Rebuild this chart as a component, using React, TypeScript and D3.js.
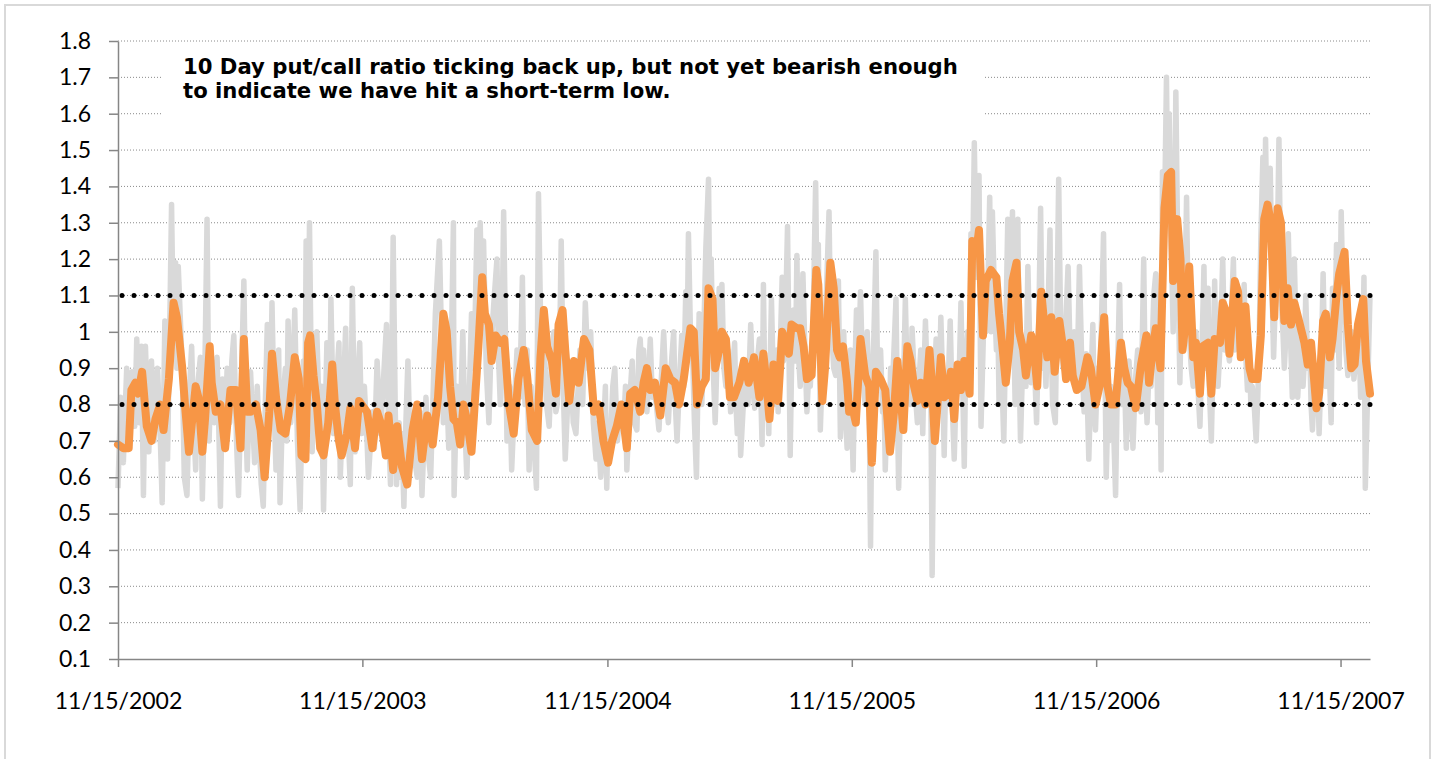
import React, { useEffect, useRef } from "react";
import * as d3 from "d3";

// first date of the series, x ticks fall on every 11/15
const startDate = "11/15/2002";
const xTickLabels = ["11/15/2002", "11/15/2003", "11/15/2004", "11/15/2005", "11/15/2006", "11/15/2007"];
const yTicks = [0.1, 0.2, 0.3, 0.4, 0.5, 0.6, 0.7, 0.8, 0.9, 1.0, 1.1, 1.2, 1.3, 1.4, 1.5, 1.6, 1.7, 1.8];
const thresholds = [1.1, 0.8];
const note = [
  "10 Day put/call ratio ticking back up, but not yet bearish enough",
  "to indicate we have hit a short-term low.",
];

// [days after 11/15/2002, daily put/call ratio]
const dailyRatio: [number, number][] = [
  [0,0.57],[4,0.82],[8,0.64],[13,0.9],[17,0.7],[21,0.89],[25,0.74],[28,0.98],[32,0.75],[35,0.96],[38,0.55],[41,0.96],[46,0.67],[50,0.92],[54,0.7],[59,0.9],[63,0.72],[66,0.53],[70,1.03],[74,0.65],[78,1.1],[80,1.35],[83,0.95],[86,1.19],[88,0.9],[90,1.18],[96,0.9],[99,0.6],[103,0.55],[107,0.85],[110,0.96],[113,0.75],[116,0.62],[119,0.85],[123,0.93],[126,0.54],[129,0.8],[133,1.31],[136,0.7],[140,0.92],[144,0.75],[148,0.93],[151,0.7],[153,0.52],[156,0.87],[160,0.72],[163,0.9],[167,0.75],[170,0.92],[173,0.99],[177,0.7],[180,0.55],[184,0.85],[188,1.14],[191,0.75],[193,0.62],[196,0.8],[198,0.89],[202,0.72],[204,0.64],[208,0.85],[212,0.65],[214,0.58],[217,0.52],[220,0.8],[223,1.02],[227,0.75],[230,1.08],[233,0.8],[236,0.62],[238,0.8],[240,0.95],
  [242,0.53],[246,0.8],[250,0.9],[252,0.7],[254,1.03],[258,0.75],[261,0.88],[264,1.06],[268,0.7],[272,0.51],[275,0.8],[277,0.92],[279,0.7],[281,1.25],[284,0.85],[286,1.3],[290,0.67],[293,0.85],[297,1.0],[300,0.8],[302,0.68],[304,0.85],[307,0.51],[310,0.8],[312,0.97],[316,0.75],[318,1.09],[322,0.72],[326,0.85],[330,0.97],[332,0.6],[336,0.8],[340,1.01],[343,0.75],[347,0.58],[350,1.12],[354,0.67],[358,0.85],[361,0.97],[364,0.72],[368,0.85],[372,0.7],[374,0.6],[380,0.78],[383,0.68],[387,0.92],[392,0.72],[396,0.85],[401,1.02],[404,0.75],[407,0.58],[411,1.26],[414,0.8],[416,0.58],[420,0.75],[422,0.6],[424,0.72],[427,0.52],[430,0.75],[433,0.92],[436,0.7],[440,0.77],[443,0.65],[447,0.6],[451,0.78],[454,0.55],[457,0.7],[460,0.82],[462,0.7],[464,0.65],[467,0.6],[471,0.85],[474,1.05],[480,1.25],
  [486,0.75],[490,0.9],[494,0.68],[497,0.85],[501,1.3],[502,0.55],[506,0.85],[508,0.7],[512,0.8],[515,1.0],[518,0.75],[521,0.6],[525,0.85],[528,1.05],[532,0.9],[536,1.28],[538,1.05],[541,1.3],[544,1.0],[546,1.25],[550,0.9],[554,0.75],[557,0.95],[561,1.07],[566,1.2],[568,0.95],[571,0.8],[574,1.05],[576,1.33],[579,0.95],[581,0.7],[585,0.85],[588,0.62],[592,0.8],[596,0.95],[600,0.82],[604,1.15],[606,0.9],[608,0.8],[611,0.95],[614,0.62],[617,0.85],[621,0.7],[625,0.57],[628,1.38],[632,0.95],[636,1.0],[640,0.8],[644,0.74],[647,0.9],[651,1.0],[654,0.78],[656,0.8],[660,1.0],[662,1.25],[665,0.85],[668,0.65],[672,0.82],[676,0.9],[680,0.75],[684,0.72],[686,0.8],[690,0.95],[694,0.8],[698,1.08],[702,0.9],[706,1.0],[710,0.75],[714,0.65],[717,0.75],[721,0.6],
  [725,0.72],[728,0.85],[730,0.57],[732,0.75],[735,0.68],[739,0.85],[742,0.9],[746,0.7],[750,0.8],[755,0.73],[758,0.85],[760,0.62],[764,0.8],[768,0.92],[771,0.75],[775,0.73],[778,0.95],[780,0.98],[783,0.85],[785,0.95],[788,0.8],[790,0.78],[795,0.98],[798,0.82],[800,0.85],[804,0.8],[808,0.73],[811,0.85],[815,1.0],[819,0.82],[822,0.75],[826,0.9],[830,1.0],[832,0.82],[835,0.7],[839,0.88],[842,0.99],[845,0.85],[848,1.11],[850,0.95],[852,1.27],[855,1.0],[858,0.95],[861,0.75],[864,0.6],[868,1.05],[870,0.85],[872,0.8],[875,1.0],[878,1.23],[882,1.42],[884,1.05],[886,1.2],[889,0.9],[892,0.75],[895,0.95],[898,1.12],[900,0.95],[902,1.13],[905,0.9],[908,0.85],[911,0.95],[915,0.78],[918,0.9],[921,0.97],[923,0.8],[925,0.72],[928,0.85],[930,0.66],[934,0.8],[938,0.9],[941,0.8],[945,1.02],[948,0.85],[951,0.79],[954,0.9],[958,0.98],
  [962,0.69],[964,1.13],[966,0.85],[969,0.9],[972,0.72],[974,0.9],[976,1.09],[979,0.85],[982,0.8],[984,0.95],[986,0.78],[989,0.95],[992,1.15],[994,0.92],[996,0.95],[1000,1.29],[1004,0.66],[1006,0.9],[1009,1.06],[1012,0.92],[1014,1.21],[1016,0.95],[1019,0.85],[1023,1.16],[1026,0.95],[1029,0.78],[1032,0.9],[1034,0.85],[1038,1.0],[1042,1.41],[1044,1.1],[1046,1.24],[1049,0.73],[1052,0.9],[1054,0.95],[1058,1.1],[1062,1.33],[1064,1.05],[1066,1.0],[1069,0.9],[1072,0.88],[1076,1.14],[1079,0.71],[1082,0.85],[1084,1.0],[1086,0.8],[1089,0.68],[1092,0.85],[1094,0.95],[1096,0.75],[1098,0.62],[1100,0.85],[1103,1.06],[1106,0.9],[1109,1.11],[1112,0.9],[1114,0.85],[1116,0.8],[1119,1.0],[1122,0.8],[1124,0.41],[1126,0.8],[1129,0.99],[1132,1.22],[1134,0.95],[1136,0.9],[1139,0.95],[1142,0.78],[1144,0.85],[1146,0.62],[1149,0.8],[1152,0.75],[1154,0.9],[1156,0.82],[1159,0.95],[1162,1.09],[1164,0.8],[1166,0.57],[1169,0.85],[1172,0.75],[1176,1.09],[1179,0.85],[1182,0.9],[1184,0.8],[1186,1.01],[1190,0.85],[1194,0.75],[1196,0.85],[1199,0.95],
  [1202,0.72],[1204,0.9],[1206,1.03],[1209,0.85],[1212,0.8],[1214,0.85],[1216,0.33],[1219,0.85],[1222,0.98],[1224,0.85],[1226,0.78],[1229,1.04],[1232,0.85],[1234,0.66],[1236,0.85],[1239,0.8],[1243,1.03],[1246,0.8],[1249,0.65],[1252,0.85],[1254,0.9],[1256,0.85],[1259,1.08],[1262,0.82],[1264,0.63],[1266,0.9],[1269,1.0],[1272,0.85],[1274,1.27],[1276,1.1],[1279,1.52],[1282,1.15],[1284,1.2],[1286,1.43],[1289,0.74],[1292,0.95],[1294,1.1],[1296,1.0],[1299,1.1],[1302,1.37],[1304,1.0],[1306,1.33],[1309,1.1],[1312,0.95],[1314,1.05],[1316,0.8],[1319,0.95],[1323,0.7],[1326,1.0],[1329,1.31],[1332,1.0],[1336,1.33],[1338,1.0],[1340,0.8],[1344,1.31],[1346,0.9],[1348,0.7],[1351,0.9],[1354,0.95],[1356,0.85],[1359,1.18],[1362,0.95],[1364,0.86],[1368,0.95],[1372,0.75],[1375,1.0],[1378,1.34],[1381,0.9],[1384,0.95],[1386,0.85],[1389,1.05],[1392,1.28],[1394,0.95],[1396,0.8],[1400,0.75],[1402,1.0],[1405,1.42],[1408,1.0],[1412,0.9],[1415,1.0],[1419,1.18],[1422,0.95],[1424,0.9],[1428,1.0],[1432,0.85],[1434,1.0],[1436,1.18],[1439,0.95],
  [1443,0.78],[1446,0.94],[1448,0.8],[1450,0.65],[1453,0.85],[1456,1.02],[1458,0.8],[1460,0.73],[1463,0.9],[1466,0.85],[1468,0.95],[1472,1.27],[1476,0.6],[1478,0.75],[1480,0.7],[1483,0.85],[1486,0.8],[1490,0.55],[1493,0.9],[1496,1.13],[1498,0.9],[1500,0.8],[1503,0.9],[1506,0.68],[1508,0.85],[1510,0.92],[1513,0.8],[1516,0.68],[1519,0.85],[1523,0.95],[1526,0.85],[1528,0.78],[1532,1.2],[1534,0.9],[1537,0.75],[1540,0.9],[1543,0.85],[1547,1.1],[1550,1.16],[1553,0.75],[1556,0.95],[1558,0.62],[1560,1.44],[1563,1.3],[1566,1.7],[1568,1.35],[1570,1.6],[1573,1.25],[1576,1.0],[1578,1.3],[1580,1.66],[1583,1.2],[1586,0.86],[1588,1.05],[1590,1.2],[1593,1.0],[1596,1.37],[1598,1.1],[1600,1.0],[1603,0.9],[1606,0.85],[1608,0.95],[1610,1.0],[1613,0.85],[1616,0.74],[1619,0.95],[1622,1.18],[1624,0.9],[1628,1.12],[1630,0.85],[1633,0.7],[1636,0.95],[1638,1.14],[1640,0.95],[1643,0.85],[1647,1.0],[1650,1.2],[1653,0.95],[1656,1.0],[1658,0.95],[1660,0.92],[1663,1.05],[1666,1.2],[1668,0.95],[1673,1.0],[1676,1.1],
  [1680,0.95],[1682,1.13],[1684,0.95],[1687,0.84],[1690,0.95],[1692,0.8],[1694,0.85],[1697,0.8],[1700,0.7],[1702,0.8],[1704,0.92],[1707,1.26],[1710,1.48],[1712,1.2],[1714,1.53],[1716,1.3],[1718,1.35],[1721,1.45],[1724,1.1],[1726,0.93],[1728,1.05],[1731,1.15],[1734,1.53],[1737,1.1],[1740,1.0],[1742,0.9],[1746,1.05],[1748,1.27],[1751,1.0],[1754,0.82],[1757,1.2],[1760,0.95],[1762,0.82],[1764,0.9],[1767,0.98],[1770,0.85],[1772,0.92],[1774,1.1],[1777,0.9],[1780,0.95],[1782,0.8],[1784,0.73],[1787,0.85],[1790,0.8],[1792,0.85],[1794,0.72],[1797,0.9],[1800,1.16],[1802,0.95],[1804,0.85],[1807,0.95],[1810,0.85],[1812,0.75],[1814,1.12],[1817,0.95],[1820,1.24],[1822,1.0],[1824,0.9],[1827,1.33],[1830,1.05],[1832,1.12],[1834,0.95],[1837,0.88],[1840,0.95],[1843,1.0],[1846,0.87],[1850,0.95],[1853,1.02],[1856,0.82],[1859,0.95],[1861,1.15],[1863,0.57],[1866,0.8],[1868,0.95],[1870,1.1],
];

// [days after 11/15/2002, 10 day average]
const tenDayRatio: [number, number][] = [
  [0,0.69],[8,0.68],[16,0.68],[20,0.84],[26,0.86],[30,0.83],[36,0.89],[43,0.74],[50,0.7],[56,0.76],[63,0.8],[68,0.73],[76,0.87],[83,1.08],[88,1.04],[96,0.9],[100,0.8],[106,0.67],[116,0.85],[120,0.82],[126,0.67],[130,0.76],[137,0.96],[140,0.86],[146,0.78],[153,0.8],[160,0.68],[168,0.84],[176,0.84],[183,0.68],[188,0.98],[193,0.78],[198,0.78],[206,0.8],[213,0.73],[219,0.6],[226,0.78],[230,0.94],[236,0.82],[243,0.73],
  [250,0.72],[257,0.8],[264,0.93],[270,0.87],[274,0.66],[280,0.65],[284,0.97],[287,0.99],[292,0.88],[297,0.8],[302,0.68],[307,0.66],[314,0.75],[320,0.91],[324,0.8],[330,0.7],[334,0.66],[342,0.72],[347,0.79],[354,0.68],[360,0.81],[364,0.8],[372,0.78],[380,0.68],[387,0.78],[394,0.74],[400,0.66],[404,0.77],[411,0.62],[417,0.74],[424,0.63],[432,0.58],[440,0.73],[447,0.8],[454,0.65],[462,0.77],[470,0.69],
  [478,0.82],[486,1.05],[491,1.0],[496,0.85],[501,0.76],[506,0.75],[511,0.69],[516,0.8],[521,0.76],[528,0.67],[531,0.75],[538,0.95],[544,1.15],[548,1.05],[554,1.02],[558,0.92],[564,0.99],[571,0.97],[577,0.98],[584,0.8],[591,0.72],[598,0.87],[606,0.95],[611,0.88],[618,0.73],[626,0.7],[631,0.93],[636,1.06],[641,0.96],[648,0.92],[654,0.83],[658,1.02],[664,1.06],[668,0.95],[674,0.81],[681,0.92],[688,0.86],[696,0.98],[704,0.95],[711,0.78],
  [718,0.8],[725,0.7],[732,0.64],[738,0.7],[745,0.74],[752,0.8],[760,0.68],[765,0.83],[772,0.84],[780,0.78],[785,0.86],[790,0.9],[795,0.84],[802,0.86],[810,0.77],[818,0.9],[825,0.87],[832,0.86],[838,0.8],[845,0.87],[850,0.94],[855,1.01],[860,1.0],[865,0.8],[872,0.85],[878,0.87],[882,1.12],[888,1.09],[892,0.9],[898,0.95],[902,1.0],[908,0.98],[914,0.82],[920,0.82],[928,0.86],[935,0.92],[942,0.86],[950,0.93],[958,0.82],
  [964,0.94],[969,0.85],[973,0.76],[979,0.91],[986,0.81],[992,1.0],[996,0.98],[1002,0.94],[1006,1.02],[1014,1.01],[1019,1.01],[1024,0.96],[1029,0.87],[1036,0.88],[1043,1.17],[1046,1.13],[1052,0.81],[1056,0.9],[1064,1.19],[1069,1.12],[1074,0.95],[1078,0.93],[1083,0.96],[1089,0.86],[1092,0.78],[1096,0.8],[1102,0.75],[1109,0.98],[1116,0.88],[1122,0.85],[1126,0.64],[1132,0.89],[1139,0.87],[1146,0.84],[1153,0.67],[1159,0.78],[1164,0.92],[1169,0.82],[1173,0.73],[1179,0.96],[1184,0.92],[1189,0.85],[1194,0.81],[1199,0.86],
  [1206,0.8],[1212,0.95],[1216,0.85],[1220,0.7],[1224,0.8],[1229,0.93],[1234,0.82],[1239,0.83],[1244,0.89],[1249,0.76],[1254,0.91],[1259,0.84],[1264,0.92],[1272,0.83],[1276,1.25],[1282,1.22],[1286,1.28],[1292,0.99],[1296,1.14],[1304,1.17],[1312,1.15],[1316,1.05],[1322,0.94],[1326,0.86],[1332,0.97],[1336,1.14],[1342,1.19],[1346,1.0],[1352,0.95],[1356,0.88],[1364,0.99],[1369,0.93],[1373,0.85],[1379,1.11],[1384,1.01],[1388,0.93],[1394,1.04],[1399,0.89],[1406,1.03],[1412,0.95],[1416,0.87],[1422,0.97],[1426,0.88],[1432,0.84],[1439,0.85],
  [1448,0.93],[1453,0.9],[1460,0.8],[1466,0.85],[1470,0.97],[1473,1.04],[1478,0.85],[1483,0.8],[1490,0.8],[1498,0.97],[1503,0.9],[1508,0.86],[1513,0.85],[1520,0.79],[1528,0.91],[1536,0.99],[1540,0.86],[1546,0.96],[1550,1.01],[1557,0.9],[1563,1.34],[1568,1.43],[1573,1.44],[1576,1.14],[1582,1.31],[1587,1.2],[1590,0.95],[1596,1.05],[1600,1.18],[1606,0.93],[1610,0.97],[1616,0.83],[1620,0.96],[1628,0.97],[1633,0.83],[1638,0.98],[1646,0.97],[1650,1.08],[1656,1.05],[1660,0.94],[1668,1.14],[1673,1.11],
  [1677,0.93],[1684,1.07],[1690,0.9],[1694,0.87],[1702,0.87],[1707,0.99],[1712,1.31],[1717,1.35],[1722,1.3],[1727,1.04],[1732,1.34],[1737,1.3],[1742,1.03],[1747,1.12],[1752,1.02],[1757,1.08],[1764,1.03],[1772,0.97],[1777,0.91],[1782,0.97],[1790,0.79],[1794,0.83],[1800,1.03],[1804,1.05],[1810,0.93],[1814,0.98],[1820,1.1],[1824,1.16],[1832,1.22],[1837,1.02],[1842,0.9],[1847,0.91],[1852,1.02],[1860,1.09],[1864,0.92],[1870,0.83],
];

export default function App() {
  const ref = useRef<SVGSVGElement>(null);

  useEffect(() => {
    var width = 1435, height = 759;
    var margin = { top: 41, right: 65, bottom: 100, left: 118 };

    var svg = d3.select(ref.current);
    svg.selectAll("*").remove();

    // outer chart frame
    svg.append("rect")
      .attr("x", 5).attr("y", 5)
      .attr("width", 1425).attr("height", 780)
      .attr("fill", "#fff").attr("stroke", "#d9d9d9").attr("stroke-width", 2);

    var parse = d3.timeParse("%m/%d/%Y");
    var t0 = parse(startDate) as Date;
    var toDate = (d: number) => d3.timeDay.offset(t0, d);
    var lastDay = d3.max(dailyRatio.concat(tenDayRatio), (d) => d[0]) as number;

    const x = d3.scaleTime().domain([t0, toDate(lastDay)]).range([margin.left, width - margin.right]);
    const y = d3.scaleLinear().domain([0.1, 1.8]).range([height - margin.bottom, margin.top]);

    // dotted gridlines
    svg.append("g").selectAll("line")
      .data(yTicks.slice(1))
      .join("line")
      .attr("x1", x.range()[0]).attr("x2", x.range()[1])
      .attr("y1", (d) => y(d)).attr("y2", (d) => y(d))
      .attr("stroke", "#8a8a8a").attr("stroke-width", 1)
      .attr("stroke-dasharray", "1,2");

    // white box for the note
    svg.append("rect")
      .attr("x", 163).attr("y", 47)
      .attr("width", 820).attr("height", 80)
      .attr("fill", "#fff");

    var line = d3.line<[number, number]>()
      .x((d) => x(toDate(d[0])))
      .y((d) => y(d[1]));

    svg.append("path")
      .datum(dailyRatio)
      .attr("d", line)
      .attr("fill", "none")
      .attr("stroke", "#d9d9d9")
      .attr("stroke-width", 5.5)
      .attr("stroke-linejoin", "round");

    svg.append("path")
      .datum(tenDayRatio)
      .attr("d", line)
      .attr("fill", "none")
      .attr("stroke", "#f79646")
      .attr("stroke-width", 8)
      .attr("stroke-linejoin", "round")
      .attr("stroke-linecap", "round");

    // 1.1 / 0.8 round-dot levels
    svg.append("g").selectAll("line")
      .data(thresholds)
      .join("line")
      .attr("x1", x.range()[0] + 4).attr("x2", x.range()[1] + 2)
      .attr("y1", (d) => y(d)).attr("y2", (d) => y(d))
      .attr("stroke", "#000").attr("stroke-width", 5)
      .attr("stroke-linecap", "round")
      .attr("stroke-dasharray", "0,12");

    // axes
    var axisFont = "Lato, sans-serif";
    var yAxis = svg.append("g")
      .attr("transform", `translate(${margin.left},0)`)
      .call(d3.axisLeft(y).tickValues(yTicks).tickSize(9).tickSizeOuter(0).tickPadding(18)
        .tickFormat((d) => String(+(+d).toFixed(1))));
    var xAxis = svg.append("g")
      .attr("transform", `translate(0,${height - margin.bottom})`)
      .call(d3.axisBottom(x).tickValues(xTickLabels.map((s) => parse(s) as Date)).tickSize(8).tickSizeOuter(0).tickPadding(26)
        .tickFormat((d, i) => xTickLabels[i]));

    [yAxis, xAxis].forEach((g) => {
      g.select(".domain").attr("stroke", "#868686").attr("stroke-width", 1.5);
      g.selectAll(".tick line").attr("stroke", "#868686").attr("stroke-width", 1.5);
      g.selectAll("text").attr("fill", "#000").style("font-family", axisFont).style("font-size", "23px");
    });

    // note text
    svg.append("g").selectAll("text")
      .data(note)
      .join("text")
      .attr("x", 183)
      .attr("y", (d, i) => 74 + i * 24)
      .style("font-family", "'DejaVu Sans', Verdana, sans-serif")
      .style("font-weight", "bold")
      .style("font-size", "21.2px")
      .text((d) => d);
  }, []);

  return (
    <svg ref={ref} width={1435} height={759} style={{ position: "absolute", left: 0, top: 0 }} />
  );
}
